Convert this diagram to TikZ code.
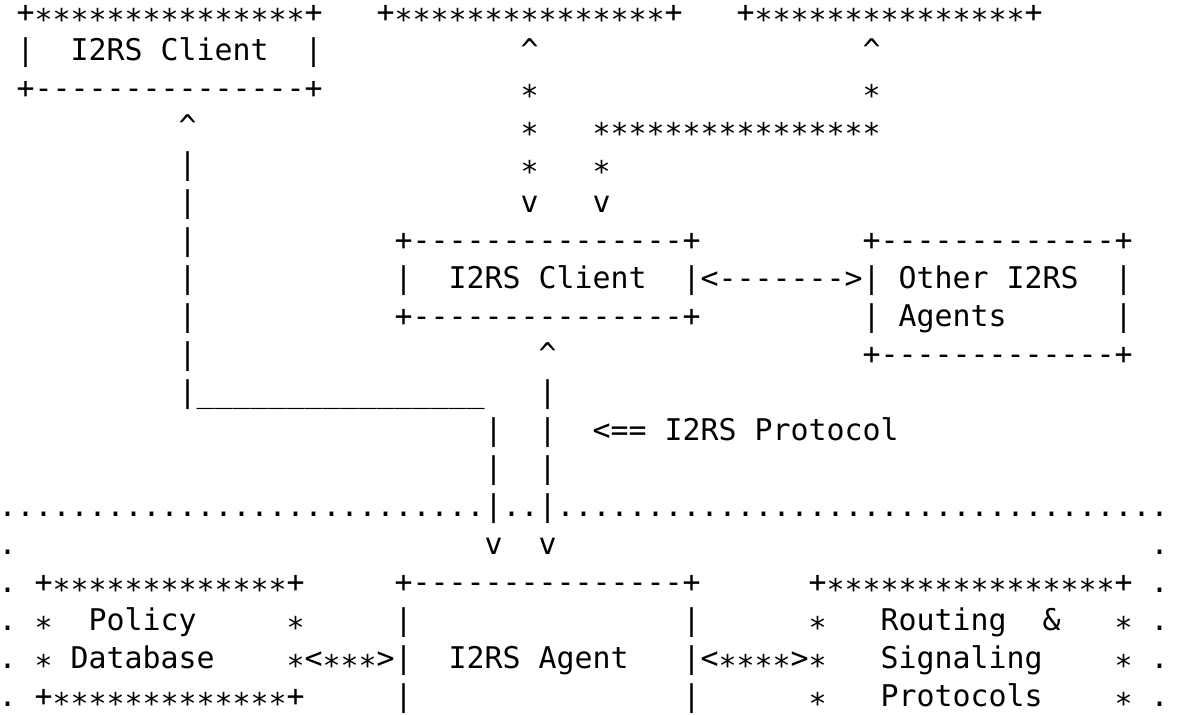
\documentclass[tikz,border=0pt]{standalone}
\usepackage{fontspec}
\setmonofont{DejaVu Sans Mono}
\ExplSyntaxOn
\cs_new:Npn \myrep #1#2 { \prg_replicate:nn {#1} {#2} }
\ExplSyntaxOff
\newcommand\st{\raisebox{-0.26em}[0.5em][0pt]{*}}
\newcommand\dsh[1]{\myrep{#1}{-}}
\newcommand\sts[1]{\myrep{#1}{\st}}
\newcommand\up{\textasciicircum}
\tikzset{asc/.style={anchor=base west, inner sep=0pt, outer sep=0pt,
  font=\ttfamily\fontsize{14.95pt}{19pt}\selectfont}}
\newcommand\asc[4]{\node[asc] (#1) at ({-0.65pt+9pt*#2},{-11.2pt-19pt*(#3-1)}) {#4};}
\begin{document}
\begin{tikzpicture}
\fill[white] (0,0) rectangle (590pt,-357pt);
\useasboundingbox (0,0) rectangle (590pt,-357pt);
% line 1
\asc{topA}{1}{1}{+\sts{15}+}
\asc{topB}{21}{1}{+\sts{15}+}
\asc{topC}{41}{1}{+\sts{15}+}
% line 2
\asc{cliAl}{1}{2}{|}
\asc{cliA}{4}{2}{I2RS Client}
\asc{cliAr}{17}{2}{|}
\asc{upB}{29}{2}{\up}
\asc{upC}{48}{2}{\up}
% line 3
\asc{cliAbot}{1}{3}{+\dsh{15}+}
\asc{sB3}{29}{3}{\st}
\asc{sC3}{48}{3}{\st}
% line 4
\asc{upA}{10}{4}{\up}
\asc{sB4}{29}{4}{\st}
\asc{sC4}{33}{4}{\sts{16}}
% line 5
\asc{vA5}{10}{5}{|}
\asc{sB5}{29}{5}{\st}
\asc{sC5}{33}{5}{\st}
% line 6
\asc{vA6}{10}{6}{|}
\asc{dnB}{29}{6}{v}
\asc{dnC}{33}{6}{v}
% line 7
\asc{vA7}{10}{7}{|}
\asc{cliBtop}{22}{7}{+\dsh{15}+}
\asc{othtop}{48}{7}{+\dsh{13}+}
% line 8
\asc{vA8}{10}{8}{|}
\asc{cliBl}{22}{8}{|}
\asc{cliB}{25}{8}{I2RS Client}
\asc{cliBoth}{38}{8}{|<\dsh{7}>|}
\asc{oth}{50}{8}{Other I2RS}
\asc{othr8}{62}{8}{|}
% line 9
\asc{vA9}{10}{9}{|}
\asc{cliBbot}{22}{9}{+\dsh{15}+}
\asc{othl9}{48}{9}{|}
\asc{oth2}{50}{9}{Agents}
\asc{othr9}{62}{9}{|}
% line 10
\asc{vA10}{10}{10}{|}
\asc{upD}{30}{10}{\up}
\asc{othbot}{48}{10}{+\dsh{13}+}
% line 11
\asc{cornA}{10}{11}{|\myrep{16}{\_}}
\asc{vD11}{30}{11}{|}
% line 12
\asc{vE12}{27}{12}{|}
\asc{vD12}{30}{12}{|}
\asc{proto}{33}{12}{<== I2RS Protocol}
% line 13
\asc{vE13}{27}{13}{|}
\asc{vD13}{30}{13}{|}
% line 14
\asc{border}{0}{14}{\myrep{27}{.}|..|\myrep{34}{.}}
% line 15
\asc{b15l}{0}{15}{.}
\asc{dnE}{27}{15}{v}
\asc{dnD}{30}{15}{v}
\asc{b15r}{64}{15}{.}
% line 16
\asc{b16l}{0}{16}{.}
\asc{poltop}{2}{16}{+\sts{13}+}
\asc{agtop}{22}{16}{+\dsh{15}+}
\asc{rttop}{45}{16}{+\sts{16}+}
\asc{b16r}{64}{16}{.}
% line 17
\asc{b17l}{0}{17}{.}
\asc{pol17l}{2}{17}{\st}
\asc{pol}{5}{17}{Policy}
\asc{pol17r}{16}{17}{\st}
\asc{ag17l}{22}{17}{|}
\asc{ag17r}{38}{17}{|}
\asc{rt17l}{45}{17}{\st}
\asc{rt}{49}{17}{Routing}
\asc{amp}{58}{17}{\&}
\asc{rt17r}{62}{17}{\st}
\asc{b17r}{64}{17}{.}
% line 18
\asc{b18l}{0}{18}{.}
\asc{pol18l}{2}{18}{\st}
\asc{pol2}{4}{18}{Database}
\asc{polag}{16}{18}{\st<\sts{3}>|}
\asc{ag}{25}{18}{I2RS Agent}
\asc{agrt}{38}{18}{|<\sts{4}>\st}
\asc{rt2}{49}{18}{Signaling}
\asc{rt18r}{62}{18}{\st}
\asc{b18r}{64}{18}{.}
% line 19
\asc{b19l}{0}{19}{.}
\asc{polbot}{2}{19}{+\sts{13}+}
\asc{ag19l}{22}{19}{|}
\asc{ag19r}{38}{19}{|}
\asc{rt19l}{45}{19}{\st}
\asc{rt3}{49}{19}{Protocols}
\asc{rt19r}{62}{19}{\st}
\asc{b19r}{64}{19}{.}
\end{tikzpicture}
\end{document}
